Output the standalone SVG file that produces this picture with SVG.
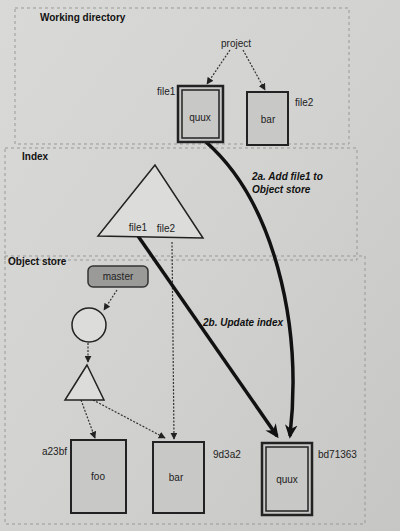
<svg xmlns="http://www.w3.org/2000/svg" width="400" height="531" viewBox="0 0 400 531">
<defs>
<linearGradient id="bg" x1="0" y1="0" x2="1" y2="1">
<stop offset="0" stop-color="#d9d9d7"/>
<stop offset="0.5" stop-color="#d2d2d0"/>
<stop offset="1" stop-color="#c6c6c4"/>
</linearGradient>
<marker id="ahs" viewBox="0 0 10 10" refX="9" refY="5" markerWidth="7" markerHeight="7" orient="auto" markerUnits="userSpaceOnUse">
<path d="M0,0 L10,5 L0,10 z" fill="#222"/>
</marker>
<marker id="ahb" viewBox="0 0 10 10" refX="8" refY="5" markerWidth="14" markerHeight="14" orient="auto" markerUnits="userSpaceOnUse">
<path d="M0,0.5 L10,5 L0,9.5 L3,5 z" fill="#111"/>
</marker>
</defs>
<style>
.panel{fill:none;stroke:#999;stroke-width:1;stroke-dasharray:3,3}
.title{font-family:"Liberation Sans",Arial,sans-serif;font-weight:bold;font-size:10px;fill:#111}
.lbl{font-family:"Liberation Sans",Arial,sans-serif;font-size:10px;fill:#222}
.note{font-family:"Liberation Sans",Arial,sans-serif;font-weight:bold;font-style:italic;font-size:10px;fill:#111}
.blob{fill:#c8c8c6;stroke:#222;stroke-width:2}
.outer{fill:#c8c8c6;stroke:#222;stroke-width:2.5}
.inner{fill:none;stroke:#222;stroke-width:1.5}
.tree{fill:#dcdcda;stroke:#222;stroke-width:1.5}
.dot{fill:none;stroke:#333;stroke-width:1.2;stroke-dasharray:2,1.5}
.thick{fill:none;stroke:#111;stroke-width:3.5}
</style>
<rect width="400" height="531" fill="url(#bg)"/>

<g id="panels">
<rect class="panel" x="15" y="8" width="334" height="136"/>
<rect class="panel" x="5" y="148" width="352" height="112"/>
<rect class="panel" x="5" y="256" width="360" height="268"/>
<text class="title" x="40" y="21">Working directory</text>
<text class="title" x="22" y="160">Index</text>
<text class="title" x="8" y="265">Object store</text>
</g>

<g id="connectors">
<path class="dot" d="M230,50 L207,84" marker-end="url(#ahs)"/>
<path class="dot" d="M243,50 L265,90" marker-end="url(#ahs)"/>
<path class="dot" d="M117,290 L104,310" marker-end="url(#ahs)"/>
<path class="dot" d="M88,343 L88,362" marker-end="url(#ahs)"/>
<path class="dot" d="M81,400 L95,438" marker-end="url(#ahs)"/>
<path class="dot" d="M93,400 L165,438" marker-end="url(#ahs)"/>
<path class="dot" d="M172,242 L174,439" marker-end="url(#ahs)"/>
<path class="thick" d="M138,236 L277,436" marker-end="url(#ahb)"/>
<path class="thick" d="M206,142 C272,200 303,320 290,436" marker-end="url(#ahb)"/>
<text class="note" x="252" y="180">2a. Add file1 to</text>
<text class="note" x="252" y="193">Object store</text>
<text class="note" x="203" y="326">2b. Update index</text>
</g>

<g id="project">
<text class="lbl" x="236" y="47" text-anchor="middle">project</text>
</g>

<g id="wd-quux">
<rect class="outer" x="178" y="86" width="45" height="56"/>
<rect class="inner" x="182" y="90" width="37" height="48"/>
<text class="lbl" x="200" y="121" text-anchor="middle">quux</text>
<text class="lbl" x="157" y="95">file1</text>
</g>

<g id="wd-bar">
<rect class="blob" x="247" y="92" width="41" height="53" stroke-width="1.8"/>
<text class="lbl" x="268" y="123" text-anchor="middle">bar</text>
<text class="lbl" x="295" y="106">file2</text>
</g>

<g id="index-tree">
<path class="tree" d="M155,165 L98,236 L203,238 z"/>
<text class="lbl" x="138" y="231" text-anchor="middle">file1</text>
<text class="lbl" x="166" y="232" text-anchor="middle">file2</text>
</g>

<g id="master">
<rect x="88" y="266" width="60" height="21" rx="5" fill="#9a9a98" stroke="#333" stroke-width="1.5"/>
<text class="lbl" x="118" y="280" text-anchor="middle" fill="#444">master</text>
</g>

<g id="commit">
<circle cx="89" cy="325" r="17" fill="#dcdcda" stroke="#222" stroke-width="1.5"/>
</g>

<g id="tree">
<path class="tree" d="M87,365 L65,400 L104,400 z"/>
</g>

<g id="blob-foo">
<rect class="blob" x="71" y="440" width="55" height="73"/>
<text class="lbl" x="98" y="480" text-anchor="middle">foo</text>
<text class="lbl" x="42" y="455">a23bf</text>
</g>

<g id="blob-bar">
<rect class="blob" x="153" y="442" width="51" height="71"/>
<text class="lbl" x="176" y="481" text-anchor="middle">bar</text>
<text class="lbl" x="213" y="458">9d3a2</text>
</g>

<g id="blob-quux">
<rect class="outer" x="262" y="443" width="50" height="72"/>
<rect class="inner" x="266" y="447" width="42" height="64"/>
<text class="lbl" x="287" y="483" text-anchor="middle">quux</text>
<text class="lbl" x="318" y="458">bd71363</text>
</g>
</svg>
